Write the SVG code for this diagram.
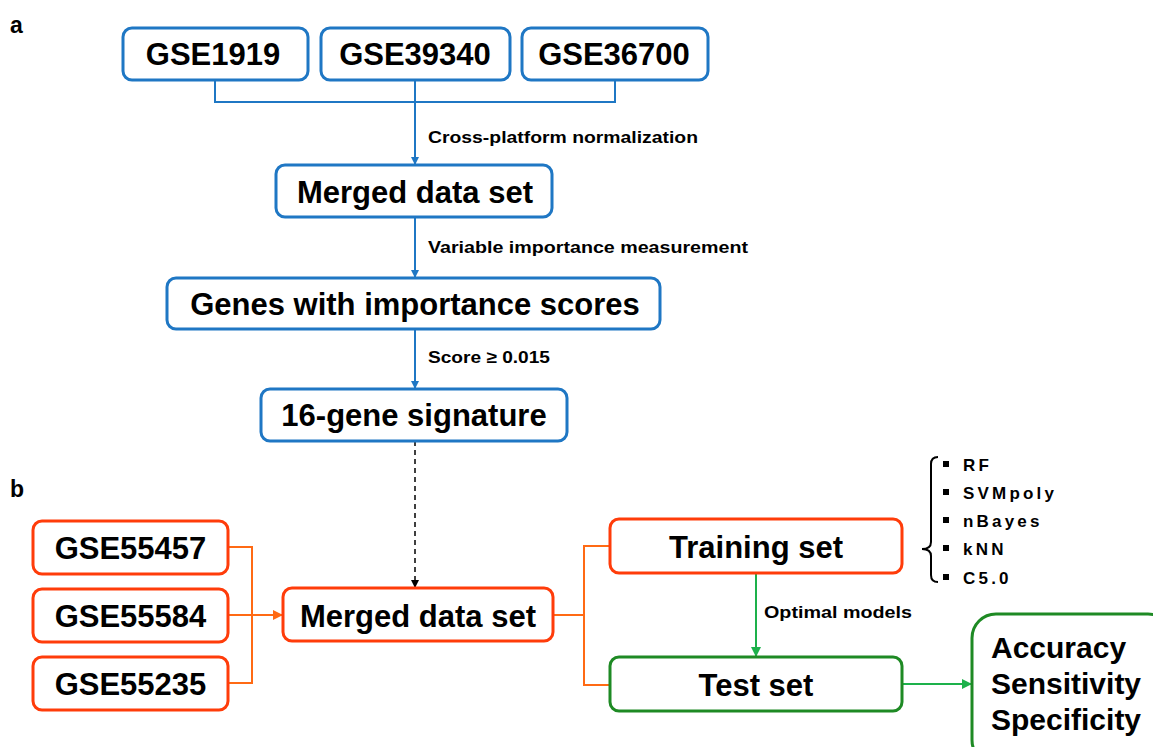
<svg xmlns="http://www.w3.org/2000/svg" width="1153" height="747" viewBox="0 0 1153 747">
  <style>
    .box { fill: #ffffff; stroke-width: 3; }
    .blue { stroke: #1F77C4; }
    .red { stroke: #FF3C0A; }
    .green { stroke: #1E8A24; }
    .t { font-family: "Liberation Sans", Arial, sans-serif; font-weight: bold; fill: #000; }
    .big { font-size: 31px; text-anchor: middle; }
    .lbl { font-size: 17px; }
    .pl { font-size: 23px; }
    .alg { font-size: 17px; letter-spacing: 3.2px; }
    .res { font-size: 30px; }
    .cb { fill: none; stroke: #1F77C4; stroke-width: 2; }
    .co { fill: none; stroke: #FF6A14; stroke-width: 2; }
    .cg { fill: none; stroke: #1DB14B; stroke-width: 2; }
  </style>
  <defs>
    <marker id="ab" markerWidth="8" markerHeight="8" refX="7" refY="4" orient="auto" markerUnits="userSpaceOnUse">
      <path d="M0,0 L8,4 L0,8 Z" fill="#1F77C4"/>
    </marker>
    <marker id="ao" markerWidth="10" markerHeight="10" refX="9" refY="5" orient="auto" markerUnits="userSpaceOnUse">
      <path d="M0,0 L10,5 L0,10 Z" fill="#FF6A14"/>
    </marker>
    <marker id="ag" markerWidth="10" markerHeight="10" refX="9" refY="5" orient="auto" markerUnits="userSpaceOnUse">
      <path d="M0,0 L10,5 L0,10 Z" fill="#1DB14B"/>
    </marker>
    <marker id="ak" markerWidth="8" markerHeight="8" refX="7" refY="4" orient="auto" markerUnits="userSpaceOnUse">
      <path d="M0,0 L8,4 L0,8 Z" fill="#000"/>
    </marker>
  </defs>

  <!-- panel letters -->
  <text class="t pl" x="10" y="33">a</text>
  <text class="t pl" x="10" y="497">b</text>

  <!-- connectors -->
  <g id="connectors">
    <path class="cb" d="M215,80 V102 H615 V80 M415,80 V164" marker-end="url(#ab)"/>
    <path class="cb" d="M415,217 V277" marker-end="url(#ab)"/>
    <path class="cb" d="M415,329 V388" marker-end="url(#ab)"/>
    <path d="M415,441 V587" fill="none" stroke="#000" stroke-width="1.5" stroke-dasharray="5,4" marker-end="url(#ak)"/>
    <path class="co" d="M228,547 H252 V683 H228"/>
    <path class="co" d="M228,615 H282" marker-end="url(#ao)"/>
    <path class="co" d="M553,615 H584 M610,546 H584 V685 H610"/>
    <path class="cg" d="M756,573 V656" marker-end="url(#ag)"/>
    <path class="cg" d="M902,684 H971" marker-end="url(#ag)"/>
  </g>

  <!-- connector labels -->
  <text class="t lbl" x="428" y="143" textLength="270" lengthAdjust="spacingAndGlyphs">Cross-platform normalization</text>
  <text class="t lbl" x="428" y="253" textLength="320" lengthAdjust="spacingAndGlyphs">Variable importance measurement</text>
  <text class="t lbl" x="428" y="363" textLength="122" lengthAdjust="spacingAndGlyphs">Score ≥ 0.015</text>
  <text class="t lbl" x="764" y="618" textLength="148" lengthAdjust="spacingAndGlyphs">Optimal models</text>

  <!-- panel a nodes -->
  <g id="gse1919">
    <rect class="box blue" x="123" y="28" width="185" height="52" rx="9"/>
    <text class="t big" x="213" y="65">GSE1919</text>
  </g>
  <g id="gse39340">
    <rect class="box blue" x="321" y="28" width="189" height="52" rx="9"/>
    <text class="t big" x="415" y="65">GSE39340</text>
  </g>
  <g id="gse36700">
    <rect class="box blue" x="522" y="28" width="186" height="52" rx="9"/>
    <text class="t big" x="614" y="65">GSE36700</text>
  </g>
  <g id="merged-a">
    <rect class="box blue" x="276" y="165" width="276" height="52" rx="9"/>
    <text class="t big" x="415" y="203">Merged data set</text>
  </g>
  <g id="genes-scores">
    <rect class="box blue" x="167" y="278" width="493" height="51" rx="9"/>
    <text class="t big" x="415" y="315">Genes with importance scores</text>
  </g>
  <g id="signature">
    <rect class="box blue" x="261" y="389" width="306" height="52" rx="9"/>
    <text class="t big" x="414" y="426">16-gene signature</text>
  </g>

  <!-- panel b nodes -->
  <g id="gse55457">
    <rect class="box red" x="33" y="521" width="195" height="53" rx="9"/>
    <text class="t big" x="130.5" y="559">GSE55457</text>
  </g>
  <g id="gse55584">
    <rect class="box red" x="33" y="589" width="195" height="53" rx="9"/>
    <text class="t big" x="130.5" y="627">GSE55584</text>
  </g>
  <g id="gse55235">
    <rect class="box red" x="33" y="657" width="195" height="53" rx="9"/>
    <text class="t big" x="130.5" y="695">GSE55235</text>
  </g>
  <g id="merged-b">
    <rect class="box red" x="283" y="588" width="270" height="53" rx="9"/>
    <text class="t big" x="418" y="627">Merged data set</text>
  </g>
  <g id="training">
    <rect class="box red" x="610" y="519" width="292" height="54" rx="9"/>
    <text class="t big" x="756" y="558">Training set</text>
  </g>
  <g id="test">
    <rect class="box green" x="610" y="657" width="292" height="54" rx="9"/>
    <text class="t big" x="756" y="696">Test set</text>
  </g>
  <g id="metrics">
    <rect class="box green" x="972" y="614" width="200" height="150" rx="24"/>
    <text class="t res" x="991" y="658">Accuracy</text>
    <text class="t res" x="991" y="694">Sensitivity</text>
    <text class="t res" x="991" y="730">Specificity</text>
  </g>

  <!-- classifier list -->
  <g id="algorithms">
    <path d="M938,457 Q931,457 931,464 V542 Q931,549 922,549 Q931,549 931,556 V575 Q931,582 938,582" fill="none" stroke="#000" stroke-width="2"/>
    <rect x="943" y="461" width="6" height="6" fill="#000"/>
    <rect x="943" y="489" width="6" height="6" fill="#000"/>
    <rect x="943" y="517" width="6" height="6" fill="#000"/>
    <rect x="943" y="545" width="6" height="6" fill="#000"/>
    <rect x="943" y="574" width="6" height="6" fill="#000"/>
    <text class="t alg" x="963" y="471">RF</text>
    <text class="t alg" x="963" y="499">SVMpoly</text>
    <text class="t alg" x="963" y="527">nBayes</text>
    <text class="t alg" x="963" y="555">kNN</text>
    <text class="t alg" x="963" y="584">C5.0</text>
  </g>
</svg>
